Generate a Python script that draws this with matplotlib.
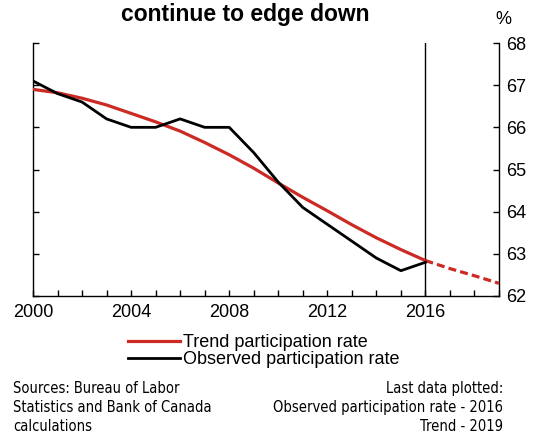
import matplotlib.pyplot as plt
from matplotlib.ticker import MultipleLocator
from matplotlib import font_manager

plt.rcParams['font.family'] = ['Liberation Sans', 'DejaVu Sans']

# observed participation rate, annual
obs_years = [2000, 2001, 2002, 2003, 2004, 2005, 2006, 2007, 2008,
             2009, 2010, 2011, 2012, 2013, 2014, 2015, 2016]
obs_rate = [67.1, 66.8, 66.6, 66.2, 66.0, 66.0, 66.2, 66.0, 66.0,
            65.4, 64.7, 64.1, 63.7, 63.3, 62.9, 62.6, 62.8]

# trend participation rate (solid up to 2016, projection after)
trend_years = [2000, 2001, 2002, 2003, 2004, 2005, 2006, 2007, 2008,
               2009, 2010, 2011, 2012, 2013, 2014, 2015, 2016]
trend_rate = [66.9, 66.82, 66.69, 66.53, 66.33, 66.13, 65.91, 65.64, 65.35,
              65.03, 64.68, 64.34, 64.02, 63.69, 63.38, 63.1, 62.84]
proj_years = [2016, 2017, 2018, 2019]
proj_rate = [62.84, 62.65, 62.48, 62.3]

red = '#CC2A25'

fig = plt.figure(figsize=(5.4, 4.33), dpi=100)
ax = fig.add_axes([33/540, 137/433, 466/540, 253/433])

ax.plot(trend_years, trend_rate, color=red, lw=2.3, label='Trend participation rate', zorder=3)
ax.plot(proj_years, proj_rate, color=red, lw=2.3, ls=(0, (2.5, 1.3)), zorder=3)
ax.plot(obs_years, obs_rate, color='black', lw=2.0, label='Observed participation rate', zorder=4)
ax.axvline(2016, color='black', lw=1.0, zorder=2)

ax.set_xlim(2000, 2019)
ax.set_ylim(62, 68)
ax.xaxis.set_major_locator(MultipleLocator(4))
ax.xaxis.set_minor_locator(MultipleLocator(1))
ax.yaxis.set_major_locator(MultipleLocator(1))

ax.spines['top'].set_visible(False)
for s in ['left', 'right', 'bottom']:
    ax.spines[s].set_linewidth(1.0)
ax.tick_params(axis='x', which='both', direction='in', length=4, width=1,
               labelsize=13, pad=6)
ax.tick_params(axis='y', which='both', direction='in', length=4, width=1,
               left=True, right=True, labelleft=False, labelright=True,
               labelsize=13, pad=5)

fig.text(245/540, 1 - 15/433, 'continue to edge down', ha='center', va='center',
         fontsize=16.5, fontweight='bold')
fig.text(503/540, 1 - 19/433, '%', ha='center', va='center', fontsize=13)

fig.legend(loc='upper left', bbox_to_anchor=(128/540, 1 - 334/433), frameon=False,
           fontsize=13, handlelength=2.9, handletextpad=0.15, labelspacing=0.02,
           borderpad=0, borderaxespad=0)

# condensed face for the footnotes
narrow = font_manager.FontProperties(family='DejaVu Sans', stretch='condensed', size=10.5)
fig.text(13/540, 1 - 381/433,
         'Sources: Bureau of Labor\nStatistics and Bank of Canada\ncalculations',
         ha='left', va='top', fontproperties=narrow, linespacing=1.32)
fig.text(503/540, 1 - 381/433,
         'Last data plotted:\nObserved participation rate - 2016\nTrend - 2019',
         ha='right', va='top', fontproperties=narrow, linespacing=1.32,
         multialignment='right')

fig.savefig('out.png', dpi=100)
